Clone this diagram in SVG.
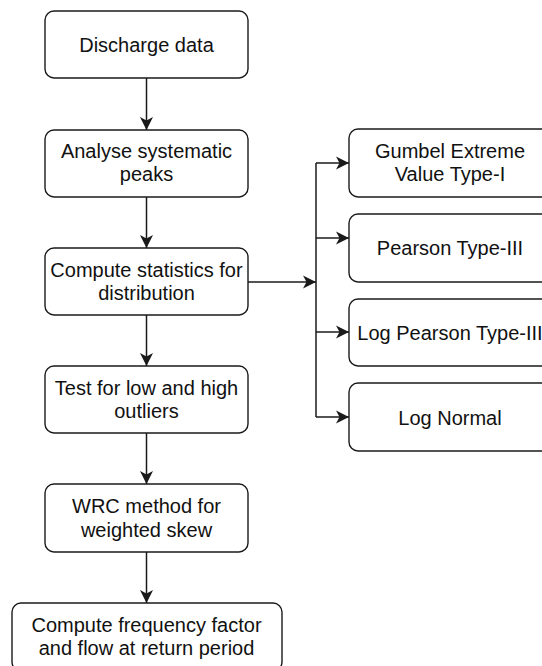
<svg xmlns="http://www.w3.org/2000/svg" width="542" height="666" viewBox="0 0 542 666">
<style>
.box{fill:#fff;stroke:#1a1a1a;stroke-width:1.4}
.t{font-family:"Liberation Sans",Arial,sans-serif;font-size:20px;fill:#111;text-anchor:middle}
.c{fill:none;stroke:#1a1a1a;stroke-width:1.5}
</style>
<defs>
<marker id="ah" markerWidth="14" markerHeight="14" viewBox="0 0 14 14" refX="13" refY="7" orient="auto" markerUnits="userSpaceOnUse">
<path d="M0,0.5 L13,7 L0,13.5 L3.5,7 Z" fill="#1a1a1a"/>
</marker>
</defs>
<rect width="542" height="666" fill="#fff"/>
<g id="n1"><rect class="box" x="45" y="11" width="203" height="67" rx="9"/><text class="t" x="146.5" y="52">Discharge data</text></g>
<g id="n2"><rect class="box" x="45" y="130" width="203" height="67" rx="9"/><text class="t" x="146.5" y="158">Analyse systematic</text><text class="t" x="146.5" y="181">peaks</text></g>
<g id="n3"><rect class="box" x="45" y="248" width="203" height="67" rx="9"/><text class="t" x="146.5" y="277">Compute statistics for</text><text class="t" x="146.5" y="300">distribution</text></g>
<g id="n4"><rect class="box" x="45" y="366" width="203" height="67" rx="9"/><text class="t" x="146.5" y="395">Test for low and high</text><text class="t" x="146.5" y="418">outliers</text></g>
<g id="n5"><rect class="box" x="45" y="484" width="203" height="68" rx="9"/><text class="t" x="146.5" y="513">WRC method for</text><text class="t" x="146.5" y="537">weighted skew</text></g>
<g id="n6"><rect class="box" x="12" y="603" width="270" height="68" rx="9"/><text class="t" x="146.5" y="632">Compute frequency factor</text><text class="t" x="146.5" y="655">and flow at return period</text></g>
<g id="r1"><rect class="box" x="349" y="129" width="203" height="68" rx="9"/><text class="t" x="450" y="158">Gumbel Extreme</text><text class="t" x="450" y="181">Value Type-I</text></g>
<g id="r2"><rect class="box" x="349" y="214" width="203" height="68" rx="9"/><text class="t" x="450" y="255">Pearson Type-III</text></g>
<g id="r3"><rect class="box" x="349" y="299" width="203" height="67" rx="9"/><text class="t" x="450" y="340">Log Pearson Type-III</text></g>
<g id="r4"><rect class="box" x="349" y="383" width="203" height="68" rx="9"/><text class="t" x="450" y="425">Log Normal</text></g>
<g id="connectors">
<line class="c" x1="146.5" y1="78" x2="146.5" y2="130" marker-end="url(#ah)"/>
<line class="c" x1="146.5" y1="197" x2="146.5" y2="248" marker-end="url(#ah)"/>
<line class="c" x1="146.5" y1="315" x2="146.5" y2="366" marker-end="url(#ah)"/>
<line class="c" x1="146.5" y1="433" x2="146.5" y2="484" marker-end="url(#ah)"/>
<line class="c" x1="146.5" y1="552" x2="146.5" y2="603" marker-end="url(#ah)"/>
<line class="c" x1="248" y1="282" x2="316" y2="282" marker-end="url(#ah)"/>
<line class="c" x1="316" y1="163" x2="316" y2="417"/>
<line class="c" x1="316" y1="163" x2="349" y2="163" marker-end="url(#ah)"/>
<line class="c" x1="316" y1="238" x2="349" y2="238" marker-end="url(#ah)"/>
<line class="c" x1="316" y1="332" x2="349" y2="332" marker-end="url(#ah)"/>
<line class="c" x1="316" y1="417" x2="349" y2="417" marker-end="url(#ah)"/>
</g>
</svg>
